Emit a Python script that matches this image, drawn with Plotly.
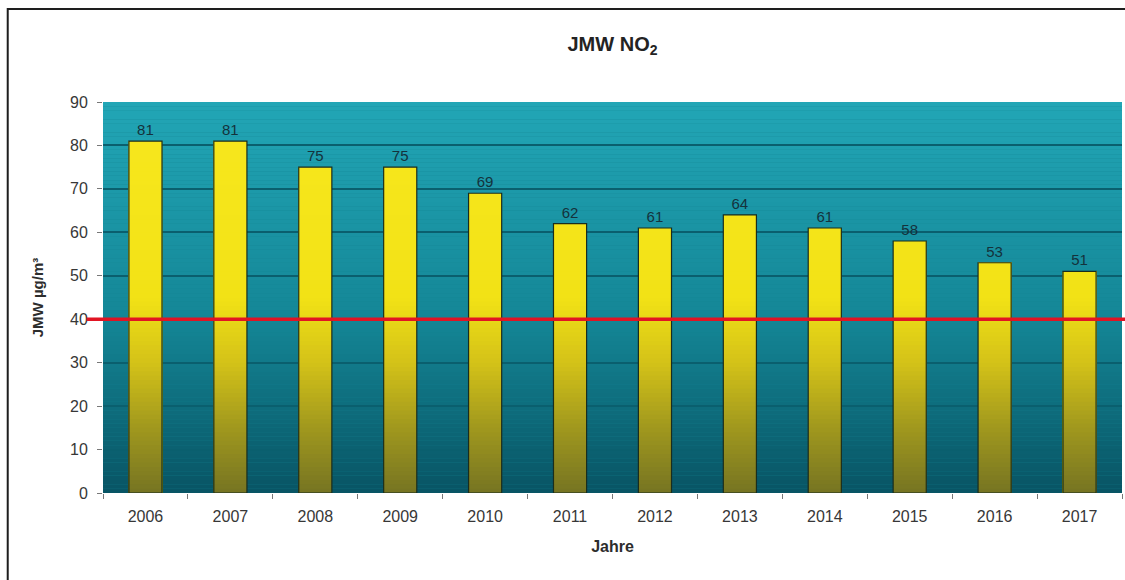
import plotly.graph_objects as go

years = ["2006", "2007", "2008", "2009", "2010", "2011", "2012", "2013", "2014", "2015", "2016", "2017"]
values = [81, 81, 75, 75, 69, 62, 61, 64, 61, 58, 53, 51]
limit_value = 40
y_ticks = [0, 10, 20, 30, 40, 50, 60, 70, 80, 90]


def lerp(stops, y):
    for (y0, c0), (y1, c1) in zip(stops, stops[1:]):
        if y0 <= y <= y1:
            f = (y - y0) / (y1 - y0) if y1 != y0 else 0
            return "rgb(%d,%d,%d)" % tuple(round(a + (b - a) * f) for a, b in zip(c0, c1))
    return "rgb(%d,%d,%d)" % stops[-1][1]


bg_stops = [(0, (8, 84, 100)), (40, (20, 134, 150)), (90, (34, 166, 182))]
bar_stops = [(0, (118, 116, 34)), (15, (160, 152, 30)), (30, (212, 194, 24)), (45, (242, 226, 22)), (90, (248, 232, 30))]

fig = go.Figure()

step = 1
tops = list(range(90, 0, -step))
for t in tops:
    fig.add_trace(go.Bar(
        x=years, y=[min(v, t) for v in values],
        marker=dict(color=lerp(bar_stops, t - step / 2), line=dict(width=0)),
        hoverinfo="skip", showlegend=False,
    ))

fig.add_trace(go.Bar(
    x=years, y=values,
    marker=dict(color="rgba(0,0,0,0)", line=dict(color="rgb(25,45,30)", width=1.2)),
    text=[str(v) for v in values], textposition="outside",
    textfont=dict(family="Liberation Sans, Arial", size=15, color="rgb(20,50,60)"),
    cliponaxis=False, showlegend=False,
))

shapes = []
for t in tops:
    shapes.append(dict(type="rect", xref="paper", yref="y", x0=0, x1=1, y0=t - step, y1=t,
                       fillcolor=lerp(bg_stops, t - step / 2), line=dict(width=0), layer="below"))
shapes.append(dict(type="line", xref="paper", yref="y", x0=-0.016, x1=1.01, y0=limit_value, y1=limit_value,
                   line=dict(color="rgb(225,20,35)", width=3.5), layer="above"))
shapes.append(dict(type="rect", xref="paper", yref="paper", x0=-0.0935, x1=1.2, y0=-0.5, y1=1.238,
                   line=dict(color="rgb(30,30,30)", width=2), fillcolor="rgba(0,0,0,0)", layer="above"))

fig.update_layout(
    width=1125, height=580,
    margin=dict(l=103, r=3, t=102, b=87),
    paper_bgcolor="white", plot_bgcolor="rgb(20,130,145)",
    barmode="overlay", bargap=0.61,
    font=dict(family="Liberation Sans, Arial", color="rgb(50,50,50)"),
    title=dict(text="<b>JMW NO<sub>2</sub></b>", x=0.5, xanchor="center", xref="paper",
               y=0.924, yanchor="middle", font=dict(size=20, color="rgb(35,35,35)")),
    shapes=shapes,
    xaxis=dict(type="category", tickson="boundaries", ticks="outside", ticklen=5,
               tickcolor="rgb(120,120,120)", showgrid=False, showline=False,
               ticklabelstandoff=12,
               tickfont=dict(size=16, color="rgb(55,55,55)"),
               title=dict(text="<b>Jahre</b>", standoff=16, font=dict(size=16, color="rgb(45,45,45)"))),
    yaxis=dict(range=[0, 90], tickvals=y_ticks, ticks="outside", ticklen=5,
               tickcolor="rgb(120,120,120)", showgrid=True, gridcolor="rgb(10,95,110)", gridwidth=1.5,
               zeroline=False, showline=False, ticklabelstandoff=6,
               tickfont=dict(size=16, color="rgb(55,55,55)"),
               title=dict(text="<b>JMW µg/m³</b>", standoff=22, font=dict(size=15, color="rgb(45,45,45)"))),
)

fig.write_html("out.html")
